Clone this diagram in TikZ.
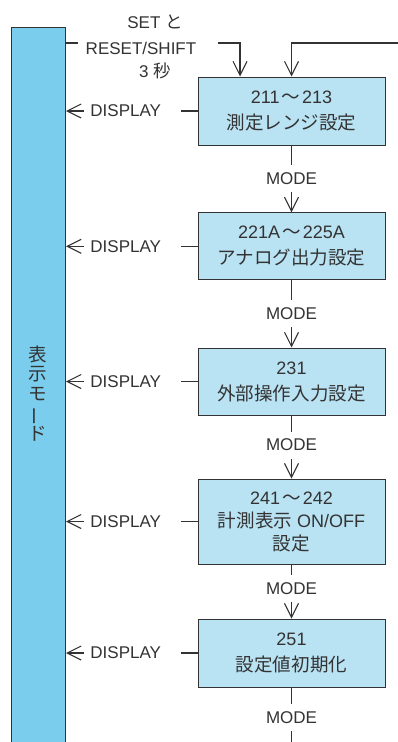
\documentclass[tikz,border=0pt]{standalone}
\usepackage{fontspec}
\setmainfont{Liberation Sans}
\newfontfamily\jp{Noto Sans CJK JP}[Scale=1.03]
\usepackage{graphicx}
\usetikzlibrary{arrows.meta}
\definecolor{barblue}{HTML}{7ACDEC}
\definecolor{boxblue}{HTML}{B9E2F3}
\definecolor{ink}{HTML}{333333}
\newcommand{\wdash}{\hspace{2pt}{\jp ～}\hspace{2pt}}
\begin{document}
\begin{tikzpicture}[x=1pt,y=-1pt,
  line/.style={draw=ink, line width=1.1pt},
  arr/.style={line, -{Straight Barb[length=14pt,width=14pt]}},
  stepbox/.style={draw=ink, line width=1pt, fill=boxblue, minimum width=187pt,
    inner sep=0pt, align=center, font=\fontsize{18}{26}\selectfont, text=ink},
  lbl/.style={font=\fontsize{17}{20}\selectfont, text=ink, inner sep=0pt},
  modelbl/.style={lbl, fill=white, inner xsep=4pt, inner ysep=7.5pt},
  displbl/.style={lbl, fill=white, inner xsep=6pt, inner ysep=4pt},
]
\useasboundingbox (0,0) rectangle (398,742);

% left bar
\node[draw=ink, line width=1pt, fill=barblue, minimum width=54.5pt,
  minimum height=720pt, anchor=north west, inner sep=0pt] (bar) at (10.5,27) {};
\node[font=\jp\fontsize{18}{19.5}\selectfont, align=center, inner sep=0pt, text=ink]
  (bartext) at (37.5,393.5) {表\\示\\モ\\\rotatebox[origin=c]{90}{ー}\\ド};

% boxes
\node[stepbox, minimum height=68pt] (b1) at (291.5,111)
  {211\wdash 213\\{\jp 測定レンジ設定}};
\node[stepbox, minimum height=67pt] (b2) at (291.5,246.3)
  {221A\wdash 225A\\{\jp アナログ出力設定}};
\node[stepbox, minimum height=67pt] (b3) at (291.5,381.5)
  {231\\{\jp 外部操作入力設定}};
\node[stepbox, minimum height=85pt, font=\fontsize{18}{23}\selectfont] (b4) at (291.5,521.5)
  {241\wdash 242\\{\jp 計測表示} ON/OFF\\{\jp 設定}};
\node[stepbox, minimum height=68pt] (b5) at (291.5,653)
  {251\\{\jp 設定値初期化}};

% top entry texts
\node[lbl, anchor=base] (t1) at (155,28) {SET {\jp と}};
\node[lbl, anchor=base] (t2) at (141,54.5) {RESET/SHIFT};
\node[lbl, anchor=base] (t3) at (155,77.5) {3 {\jp 秒}};

% top entry connectors
\coordinate (s0) at (65,43);
\coordinate (s1) at (78,43);
\coordinate (s2) at (218,43);
\coordinate (loop) at (398,43);
\draw[line] (s0) -- (s1);
\draw[arr] (s2) -| ([xshift=-51.5pt]b1.north);
\draw[arr] (loop) -| (b1.north);

% MODE connectors
\draw[arr] (b1.south) -- (b2.north) node[modelbl, pos=0.49] {MODE};
\draw[arr] (b2.south) -- (b3.north) node[modelbl, pos=0.49] {MODE};
\draw[arr] (b3.south) -- (b4.north) node[modelbl, pos=0.47] {MODE};
\draw[arr] (b4.south) -- (b5.north) node[modelbl, pos=0.44] {MODE};
\coordinate (tail) at (291.5,747);
\draw[line] (b5.south) -- (tail) node[modelbl, pos=0.5] {MODE};

% DISPLAY connectors
\foreach \b in {b1,b2,b3,b4,b5}{
  \draw[arr] (\b.west) -- (\b.west -| bar.east)
    node[displbl, pos=0.4925] {DISPLAY\hspace*{14pt}};
}
\end{tikzpicture}
\end{document}
